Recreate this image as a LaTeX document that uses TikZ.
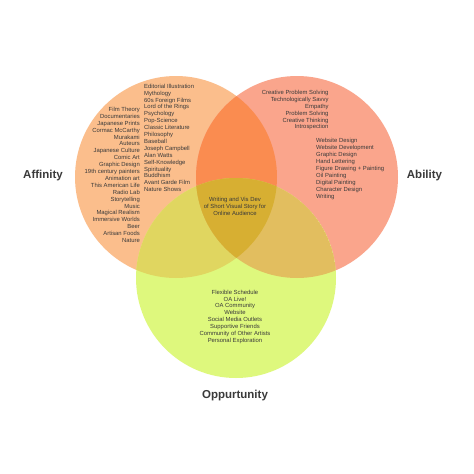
\documentclass[tikz,border=0pt]{standalone}
\usepackage{fontspec}
\setmainfont{Liberation Sans}
\definecolor{cA}{HTML}{FBBE8C}
\definecolor{cB}{HTML}{FAA58C}
\definecolor{cC}{HTML}{DEF87D}
\definecolor{cAB}{HTML}{FA8C50}
\definecolor{cAC}{HTML}{E0D660}
\definecolor{cBC}{HTML}{E2BE5F}
\definecolor{cABC}{HTML}{D7AF32}
\definecolor{txt}{HTML}{3A3A3A}
\tikzset{
  small/.style={font=\fontsize{5.9}{6.9}\selectfont, text=txt, inner sep=0pt},
  lbl/.style={font=\fontsize{11.5}{13}\selectfont\bfseries, text=txt, inner sep=0pt},
}
\begin{document}
\begin{tikzpicture}[x=1pt,y=-1pt]
\useasboundingbox (0,0) rectangle (474,474);
\fill[white] (0,0) rectangle (474,474);
\coordinate (A) at (176,177);
\coordinate (B) at (297,177);
\coordinate (C) at (236,278);
\def\rA{101}\def\rB{101}\def\rC{100}
\fill[cA] (A) circle (\rA);
\fill[cB] (B) circle (\rB);
\fill[cC] (C) circle (\rC);
\begin{scope}
  \clip (A) circle (\rA);
  \fill[cAB] (B) circle (\rB);
  \fill[cAC] (C) circle (\rC);
  \clip (B) circle (\rB);
  \fill[cABC] (C) circle (\rC);
\end{scope}
\begin{scope}
  \clip (B) circle (\rB);
  \clip (C) circle (\rC);
  \fill[cBC] (C) circle (\rC);
  \clip (A) circle (\rA);
  \fill[cABC] (C) circle (\rC);
\end{scope}
% left circle texts
\node[small, anchor=north west, align=left] (aR) at (144,83.8) {Editorial Illustration\\Mythology\\60s Foreign Films\\Lord of the Rings\\Psychology\\Pop-Science\\Classic Literature\\Philosophy\\Baseball\\Joseph Campbell\\Alan Watts\\Self-Knowledge\\Spirituality\\Buddhism\\Avant Garde Film\\Nature Shows};
\node[small, anchor=north east, align=right] (aL) at (140,107) {Film Theory\\Documentaries\\Japanese Prints\\Cormac McCarthy\\Murakami\\Auteurs\\Japanese Culture\\Comic Art\\Graphic Design\\19th century painters\\Animation art\\This American Life\\Radio Lab\\Storytelling\\Music\\Magical Realism\\Immersive Worlds\\Beer\\Artisan Foods\\Nature};
% right circle texts
\node[small, anchor=north east, align=right] (bT) at (328.7,90) {Creative Problem Solving\\Technologically Savvy\\Empathy\\Problem Solving\\Creative Thinking\\Introspection};
\node[small, anchor=north west, align=left] (bL) at (316,138.4) {Website Design\\Website Development\\Graphic Design\\Hand Lettering\\Figure Drawing + Painting\\Oil Painting\\Digital Painting\\Character Design\\Writing};
% center
\node[small, anchor=north, align=center] (ctr) at (235,197) {Writing and Vis Dev\\of Short Visual Story for\\Online Audience};
% bottom
\node[small, anchor=north, align=center] (cT) at (235,289.7) {Flexible Schedule\\OA Live!\\OA Community\\Website\\Social Media Outlets\\Supportive Friends\\Community of Other Artists\\Personal Exploration};
% labels
\node[lbl] (la) at (43,176) {Affinity};
\node[lbl] (lb) at (424.5,176) {Ability};
\node[lbl] (lc) at (235,396) {Oppurtunity};
\end{tikzpicture}
\end{document}
